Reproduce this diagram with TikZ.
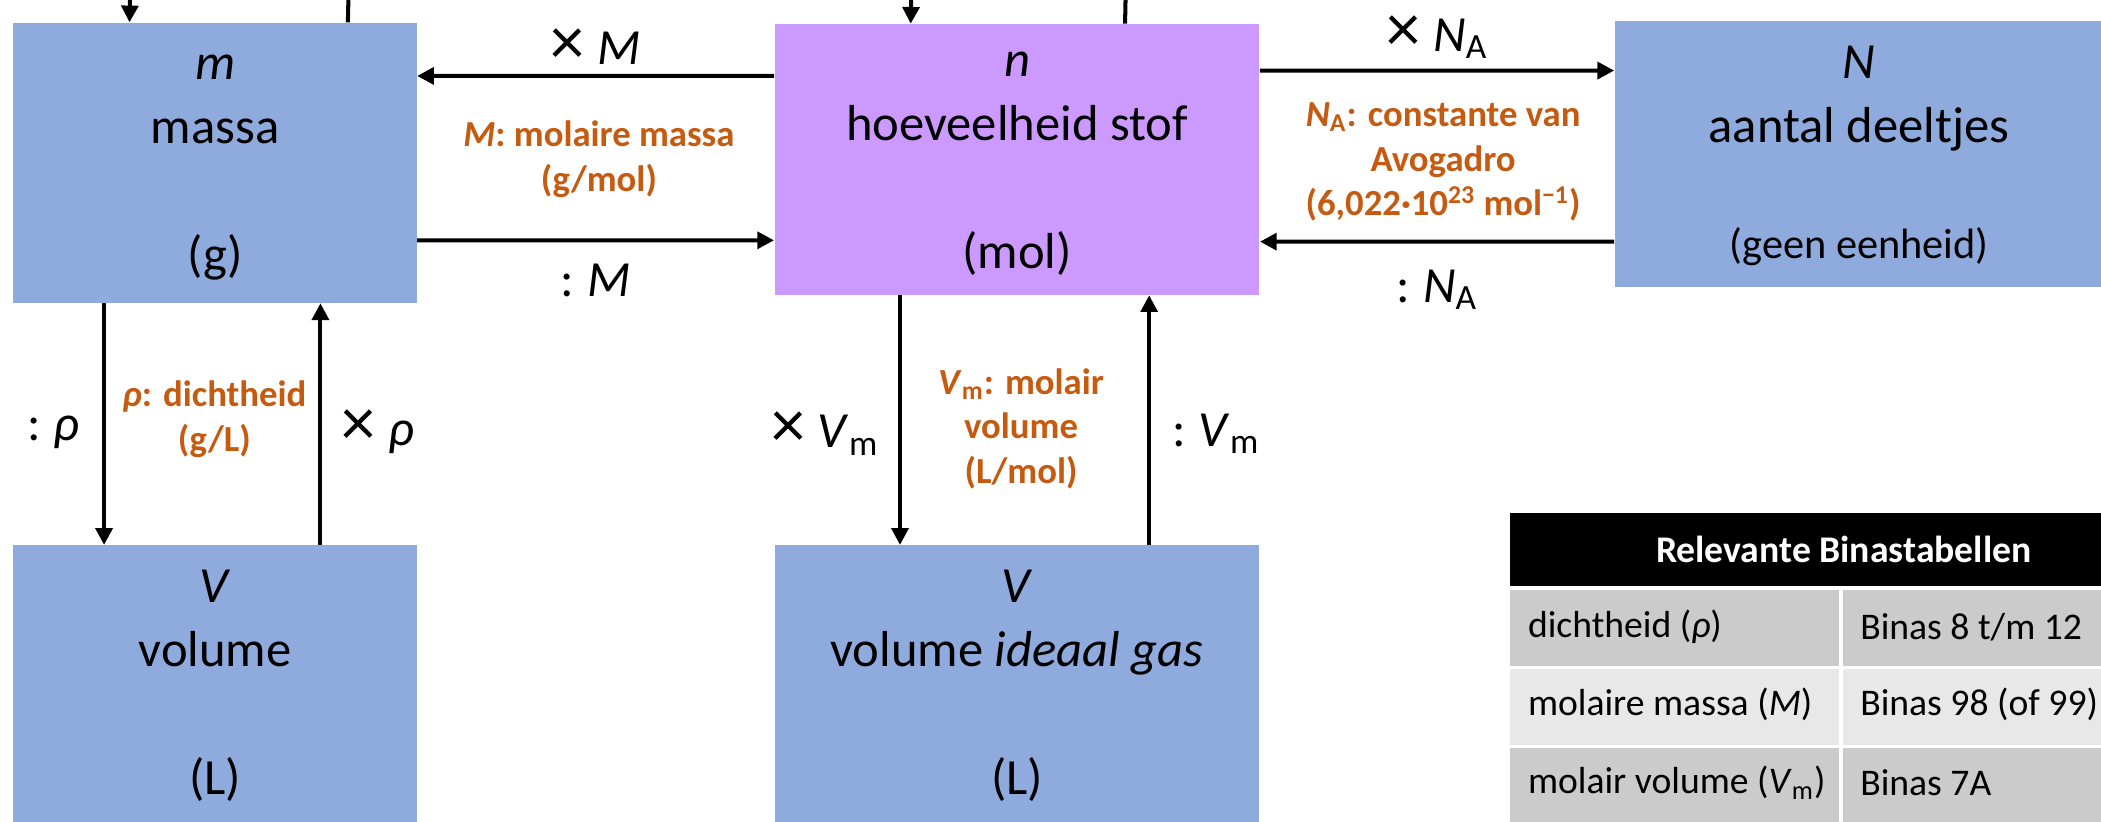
\documentclass[tikz,border=0pt]{standalone}
\usepackage{fontspec}
\setmainfont{Carlito}
\usetikzlibrary{arrows.meta,positioning}
\definecolor{massablauw}{HTML}{8FAADC}
\definecolor{molpaars}{HTML}{CC99FF}
\definecolor{oranje}{HTML}{C55A11}
\definecolor{rijdonker}{HTML}{CBCBCB}
\definecolor{rijlicht}{HTML}{E8E8E8}
\newcommand{\maalteken}{{\fontsize{29}{29}\selectfont ×}\hspace{0.25em}}
\tikzset{
    grootheid/.style={fill=massablauw, align=center, inner sep=0pt,
        font=\fontsize{21.5}{27.3}\selectfont},
    omreken/.style={line width=0.06cm, -{Triangle[length=0.25cm,width=0.25cm]}},
    stomp/.style={line width=0.06cm},
    factor/.style={inner sep=0pt, font=\fontsize{21.5}{26}\selectfont},
    uitleg/.style={text=oranje, align=center, inner sep=0pt,
        font=\bfseries\fontsize{15.6}{19}\selectfont},
    binas/.style={anchor=west, inner sep=0pt, font=\fontsize{16}{19}\selectfont},
}
\begin{document}
\begin{tikzpicture}[x=0.02cm, y=-0.02cm]
\useasboundingbox (0,0) rectangle (1568,613);
% grootheden
\node[grootheid, minimum width=6.02cm, minimum height=4.18cm] (massa) at (160.5,121.5)
    {\strut\textit{m}\\massa\\[27pt](g)\strut};
\node[grootheid, fill=molpaars, minimum width=7.24cm, minimum height=4.04cm] (stof) at (759,119)
    {\strut\textit{n}\\hoeveelheid stof\\[27pt](mol)\strut};
\node[grootheid, minimum width=7.3cm, minimum height=3.96cm] (deeltjes) at (1387.5,115)
    {\strut\textit{N}\\aantal deeltjes\\[22pt]{\fontsize{18}{22}\selectfont(geen eenheid)\strut}};
\node[grootheid, minimum width=6.02cm, minimum height=4.18cm] (vol) at (160.5,511.5)
    {\strut\textit{V}\\volume\\[27pt](L)\strut};
\node[grootheid, minimum width=7.24cm, minimum height=4.18cm] (volgas) at (759,511.5)
    {\strut\textit{V}\\volume \textit{ideaal gas}\\[27pt](L)\strut};
% aanvoer van boven
\coordinate (massaIn) at (97,0);
\coordinate (massaUit) at (260,0);
\coordinate (stofIn) at (680,0);
\coordinate (stofUit) at (840,0);
\draw[omreken] (massaIn) -- ([xshift=1.74cm]massa.north west);
\draw[stomp] ([xshift=5cm]massa.north west) -- (massaUit);
\draw[omreken] (stofIn) -- ([xshift=2.04cm]stof.north west);
\draw[stomp] ([xshift=5.24cm]stof.north west) -- (stofUit);
% omrekenpijlen
\draw[omreken] ([yshift=-0.78cm]stof.north west) --
    node[factor, yshift=0.44cm] (maalM) {\maalteken\textit{M}} ([yshift=-0.8cm]massa.north east);
\draw[omreken] ([yshift=0.94cm]massa.south east) --
    node[factor, yshift=-0.6cm] (deelM) {:\hspace{0.25em}\textit{M}} ([yshift=0.82cm]stof.south west);
\draw[omreken] ([yshift=-0.7cm]stof.north east) --
    node[factor, yshift=0.5cm] (maalNA) {\maalteken\textit{N}\textsubscript{A}} ([yshift=-0.74cm]deeltjes.north west);
\draw[omreken] ([yshift=0.68cm]deeltjes.south west) --
    node[factor, yshift=-0.72cm] (deelNA) {:\hspace{0.25em}\textit{N}\textsubscript{A}} ([yshift=0.8cm]stof.south east);
\draw[omreken] ([xshift=1.36cm]massa.south west) --
    node[factor, xshift=-0.76cm, yshift=-0.12cm] (deelrho) {:\hspace{0.25em}\textit{ρ}} ([xshift=1.36cm]vol.north west);
\draw[omreken] ([xshift=4.59cm]vol.north west) --
    node[factor, xshift=0.86cm, yshift=-0.12cm] (maalrho) {\maalteken\textit{ρ}} ([xshift=4.59cm]massa.south west);
\draw[omreken] ([xshift=1.88cm]stof.south west) --
    node[factor, xshift=-1.12cm, yshift=-0.2cm] (maalVm) {\maalteken\textit{V}\textsubscript{m}} ([xshift=1.88cm]volgas.north west);
\draw[omreken] ([xshift=5.6cm]volgas.north west) --
    node[factor, xshift=1cm, yshift=-0.2cm] (deelVm) {:\hspace{0.25em}\textit{V}\textsubscript{m}} ([xshift=5.6cm]stof.south west);
% uitleg bij de factoren
\node[uitleg] (uitlegM) at (447,119) {\textit{M}: molaire massa\\(g/mol)};
\node[uitleg] (uitlegNA) at (1077,121)
    {\textit{N}\textsubscript{A}: constante van\\Avogadro\\(6,022·10\textsuperscript{23} mol\textsuperscript{−1})};
\node[uitleg] (uitlegrho) at (160,313) {\textit{ρ}: dichtheid\\(g/L)};
\node[uitleg] (uitlegVm) at (762,320) {\textit{V}\textsubscript{m}: molair\\volume\\(L/mol)};
% tabel
\fill (1127,383) rectangle (1625,437);
\node[font=\bfseries\fontsize{16}{19}\selectfont, text=white, inner sep=0pt] (kop) at (1376,410) {Relevante Binastabellen};
\fill[rijdonker] (1127,440) rectangle (1625,497);
\fill[rijlicht] (1127,499) rectangle (1625,556);
\fill[rijdonker] (1127,558) rectangle (1625,620);
\draw[white, line width=0.05cm] (1374,438) -- (1374,620);
\node[binas] (rij1a) at (1140,468) {dichtheid (\textit{ρ})};
\node[binas] (rij1b) at (1388,468) {Binas 8 t/m 12};
\node[binas] (rij2a) at (1140,526) {molaire massa (\textit{M})};
\node[binas] (rij2b) at (1388,526) {Binas 98 (of 99)};
\node[binas] (rij3a) at (1140,584) {molair volume (\textit{V}\textsubscript{m})};
\node[binas] (rij3b) at (1388,584) {Binas 7A};
\end{tikzpicture}
\end{document}
